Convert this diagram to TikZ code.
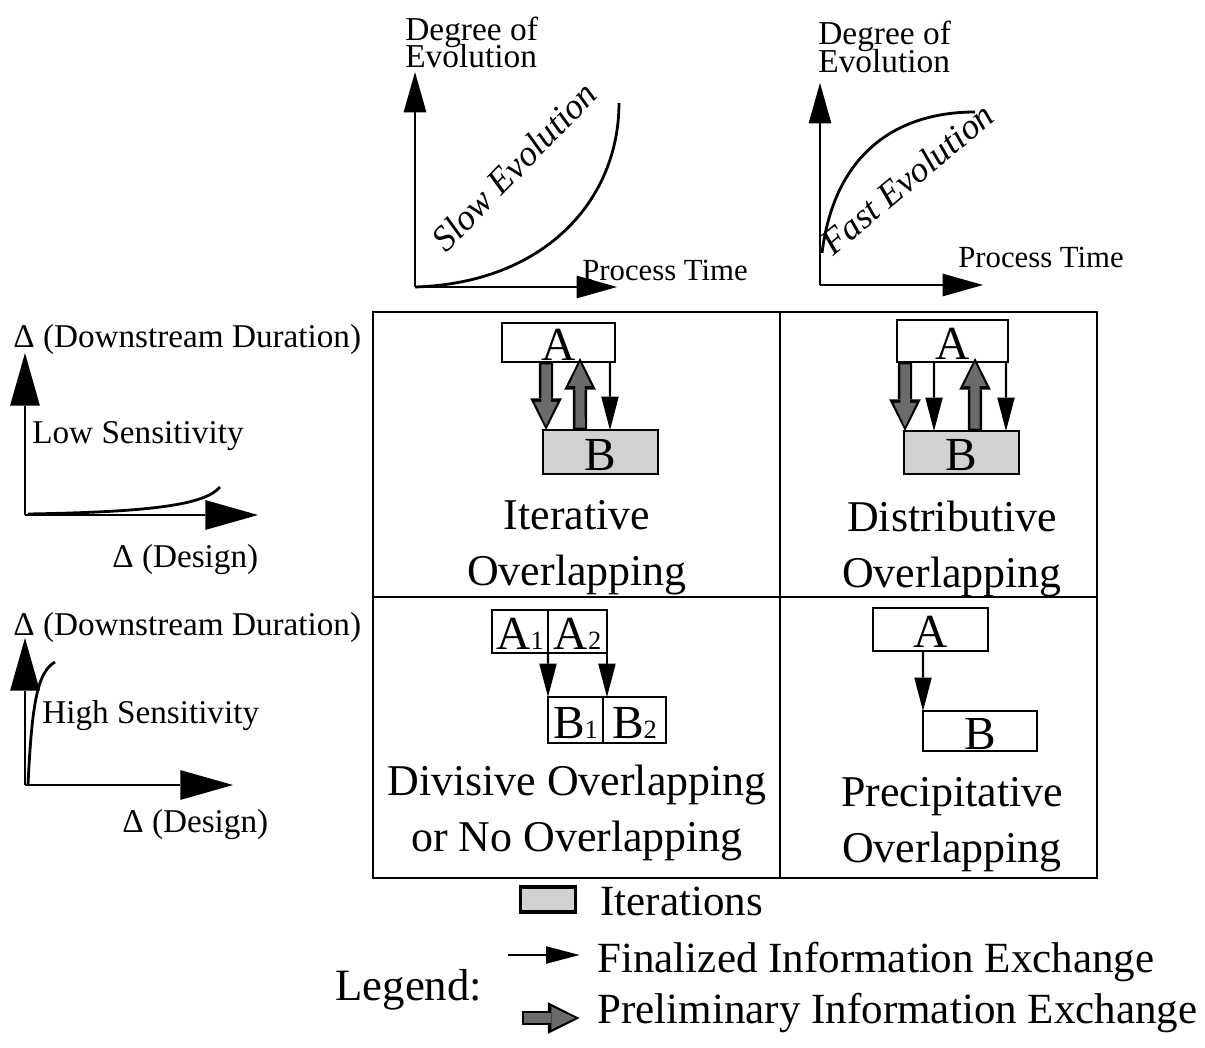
\documentclass[tikz,border=0pt]{standalone}
\usepackage{fontspec}
\setmainfont{Liberation Serif}
\usetikzlibrary{positioning,arrows.meta}
\newcommand{\lowidx}[1]{{\fontsize{15pt}{15pt}\selectfont #1}}

\begin{document}
\lineskiplimit=-20pt\relax
\begin{tikzpicture} [
	x=0.02cm, y=-0.02cm,
	box/.style={
		rectangle,draw=black,line width=1.5pt,
		inner sep=0pt,outer sep=0pt,
		text height=21pt,text depth=0pt,
		font=\fontsize{27pt}{27pt}\selectfont},
	iter/.style={
		box,fill=black!18},
	fin/.style={
		line width=1.3pt,
		-{Triangle[length=19pt,width=10pt,line width=0pt]}},
	prelim/.style={
		line width=8pt,
		-{Triangle[length=18pt,width=18pt,line width=0pt]},
		postaction={draw=black!58,line width=5.4pt,
			-{Triangle[length=13.5pt,width=13pt,line width=0pt]},
			shorten >=2.5pt,shorten <=1.3pt}},
	axis/.style={
		line width=1.6pt,
		-{Triangle[length=23pt,width=13pt,line width=0pt]}},
	bigaxis/.style={
		line width=1.6pt,
		-{Triangle[length=30pt,width=17pt,line width=0pt]}},
	curve/.style={
		line width=1.6pt},
	cell/.style={
		align=center,anchor=base,
		font=\fontsize{25pt}{31.5pt}\selectfont},
	side/.style={
		anchor=base west,inner sep=0pt,
		font=\fontsize{18.9pt}{22pt}\selectfont},
	degtext/.style={
		anchor=base west,align=left,inner sep=0pt,
		font=\fontsize{19pt}{15.5pt}\selectfont},
	timetext/.style={
		anchor=base west,inner sep=0pt,
		font=\fontsize{17.5pt}{20pt}\selectfont},
	speedtext/.style={
		anchor=base,inner sep=0pt,
		font=\fontsize{20.5pt}{22pt}\selectfont\itshape},
	keytext/.style={
		anchor=base west,inner sep=0pt,
		font=\fontsize{24.5pt}{28pt}\selectfont}]
\useasboundingbox (0,0) rectangle (1205,1048);

% evolution plots
\node[degtext] (slowDeg) at (405,68) {Degree of\\Evolution};
\node[timetext] (slowTime) at (582,280) {Process Time};
\draw[axis] (415,287) -- (415,72);
\draw[axis] (415,287) -- (617,287);
\draw[curve] (415,287) .. controls (545,283) and (619,200) .. (619,103);
\node[speedtext,rotate=46] (slowLbl) at (523,175) {Slow Evolution};

\node[degtext] (fastDeg) at (818,72) {Degree of\\Evolution};
\node[timetext] (fastTime) at (958,267) {Process Time};
\draw[axis] (820,285) -- (820,83);
\draw[axis] (820,285) -- (983,285);
\draw[curve] (822,253) .. controls (835,150) and (900,112) .. (975,112);
\node[speedtext,rotate=40] (fastLbl) at (915,188) {Fast Evolution};

% sensitivity plots
\node[side] (lowDur) at (13,347) {Δ (Downstream Duration)};
\node[side] (lowLbl) at (32,443) {Low Sensitivity};
\node[side] (lowDes) at (112,567) {Δ (Design)};
\draw[bigaxis] (25,515) -- (25,353);
\draw[bigaxis] (25,515) -- (258,515);
\draw[curve] (28,514) .. controls (150,512) and (205,505) .. (220,487);

\node[side] (highDur) at (13,635) {Δ (Downstream Duration)};
\node[side] (highLbl) at (42,723) {High Sensitivity};
\node[side] (highDes) at (122,832) {Δ (Design)};
\draw[bigaxis] (25,785) -- (25,638);
\draw[bigaxis] (25,785) -- (233,785);
\draw[curve] (28,785) .. controls (32,700) and (38,672) .. (55,662);

% grid
\draw[line width=1.7pt] (373,312) rectangle (1097,878);
\draw[line width=1.7pt] (780,312) -- (780,878) (373,597) -- (1097,597);

% iterative
\node[box,minimum width=2.26cm,minimum height=0.78cm] (iA) at (558.5,342.5) {A};
\node[iter,minimum width=2.3cm,minimum height=0.88cm] (iB) at (600.5,452) {B};
\draw[prelim] ([xshift=0.88cm]iA.south west) -- ([xshift=0.06cm]iB.north west);
\draw[prelim] ([xshift=0.74cm]iB.north west) -- ([xshift=1.56cm,yshift=0.08cm]iA.south west);
\draw[fin] ([xshift=2.16cm]iA.south west) -- ([xshift=1.34cm]iB.north west);
\node[cell] (iT) at (577,585) {Iterative\\Overlapping};

% distributive
\node[box,minimum width=2.22cm,minimum height=0.84cm] (dA) at (952.5,341) {A};
\node[iter,minimum width=2.3cm,minimum height=0.86cm] (dB) at (961.5,452.5) {B};
\draw[prelim] ([xshift=0.16cm]dA.south west) -- ([xshift=0.02cm]dB.north west);
\draw[fin] ([xshift=0.74cm]dA.south west) -- ([xshift=0.6cm]dB.north west);
\draw[prelim] ([xshift=1.42cm]dB.north west) -- ([xshift=1.56cm,yshift=0.08cm]dA.south west);
\draw[fin] ([xshift=2.18cm]dA.south west) -- ([xshift=2.04cm]dB.north west);
\node[cell] (dT) at (952,587) {Distributive\\Overlapping};

% divisive
\node[box,minimum width=1.12cm,minimum height=0.86cm] (vA1) at (520,631.5) {A\lowidx{1}};
\node[box,minimum width=1.18cm,minimum height=0.86cm,right=0pt of vA1] (vA2) {A\lowidx{2}};
\node[box,minimum width=1.1cm,minimum height=0.92cm] (vB1) at (575.5,720) {B\lowidx{1}};
\node[box,minimum width=1.26cm,minimum height=0.92cm,right=0pt of vB1] (vB2) {B\lowidx{2}};
\draw[fin] (vA1.south east) -- (vB1.north west);
\draw[fin] (vA2.south east) -- (vA2.south east |- vB2.north);
\node[cell] (vT) at (577,851) {Divisive Overlapping\\or No Overlapping};

% precipitative
\node[box,minimum width=2.3cm,minimum height=0.86cm] (pA) at (930.5,629.5) {A};
\node[box,minimum width=2.28cm,minimum height=0.8cm] (pB) at (980,731) {B};
\draw[fin] ([xshift=1cm]pA.south west) -- (pB.north west);
\node[cell] (pT) at (952,862) {Precipitative\\Overlapping};

% legend
\node[iter,minimum width=1.1cm,minimum height=0.5cm,text height=0pt,line width=1.8pt] (keyBox) at (548,899.5) {};
\node[keytext] (keyIter) at (600,915) {Iterations};
\node[keytext,font=\fontsize{25.5pt}{28pt}\selectfont] (keyLeg) at (335,1000) {Legend:};
\node[keytext,inner xsep=10pt] (keyFin) at (579.5,972) {Finalized Information Exchange};
\node[keytext,inner xsep=10pt] (keyPre) at (579.5,1023) {Preliminary Information Exchange};
\coordinate (finTail) at (508,955);
\coordinate (preTail) at (522,1018);
\draw[fin] (finTail) -- (finTail -| keyFin.west);
\draw[prelim] (preTail) -- (preTail -| keyPre.west);
\end{tikzpicture}
\end{document}
